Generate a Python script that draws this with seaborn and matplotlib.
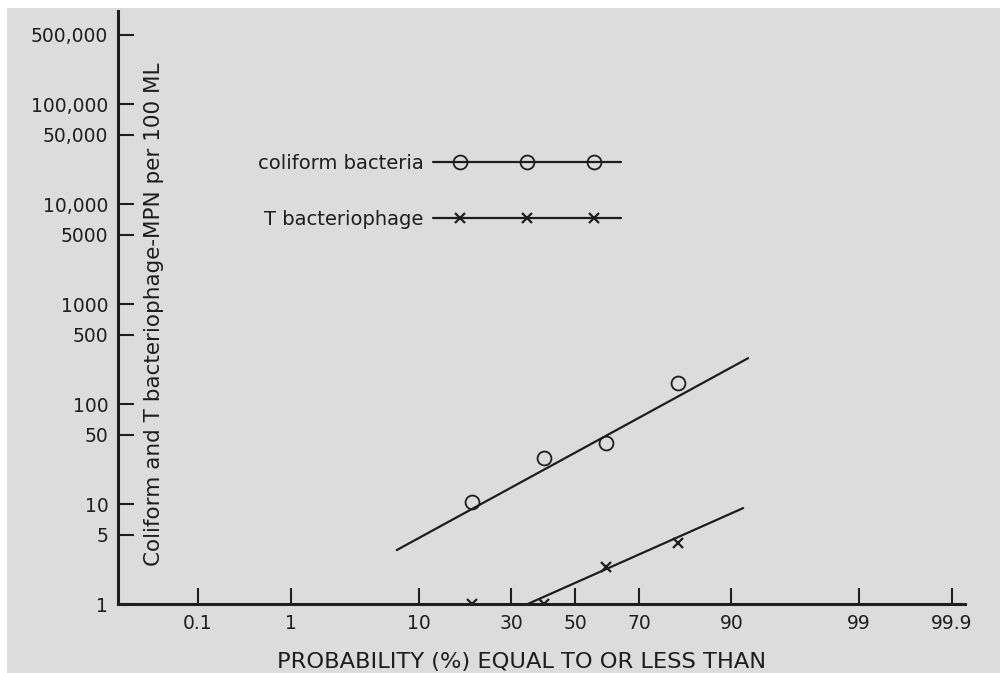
import numpy as np
import matplotlib
matplotlib.use("Agg")
import matplotlib.pyplot as plt
import seaborn as sns
from statistics import NormalDist
from matplotlib.lines import Line2D
from matplotlib.legend_handler import HandlerLine2D, HandlerTuple
from matplotlib.patches import Rectangle
from matplotlib.ticker import FixedLocator, FixedFormatter, NullLocator

# ---------------- data ----------------
probability = [20, 40, 60, 80]
coliform = [10.5, 29, 41, 165]
phage = [1, 1, 2.35, 4.1]

coliform_fit_prob = [7.2, 92.2]
coliform_fit_val = [3.5, 290]
phage_fit_prob = [34.6, 91.6]
phage_fit_val = [1.0, 9.2]

series_labels = ["coliform bacteria", "T bacteriophage"]

x_ticks = [0.1, 1, 10, 30, 50, 70, 90, 99, 99.9]
x_tick_labels = ["0.1", "1", "10", "30", "50", "70", "90", "99", "99.9"]
y_ticks = [1, 5, 10, 50, 100, 500, 1000, 5000, 10000, 50000, 100000, 500000]
y_tick_labels = ["1", "5", "10", "50", "100", "500", "1000", "5000",
                 "10,000", "50,000", "100,000", "500,000"]

x_label = "PROBABILITY (%) EQUAL TO OR LESS THAN"
y_label = "Coliform and T bacteriophage-MPN per 100 ML"

# ---------------- style ----------------
sns.set_theme(style="ticks")
plt.rcParams["font.family"] = ["DejaVu Sans"]
INK = "#1e1e1e"
BG = "#dcdcdc"

# normal-probability scale
_nd = NormalDist()


def _ppf(v):
    if not np.isfinite(v):
        return np.nan
    q = min(max(v / 100.0, 1e-12), 1 - 1e-12)
    return _nd.inv_cdf(q)


def _cdf(z):
    if np.isnan(z):
        return np.nan
    return _nd.cdf(z) * 100.0


prob_fwd = np.vectorize(_ppf, otypes=[float])
prob_inv = np.vectorize(_cdf, otypes=[float])

fig = plt.figure(figsize=(10, 6.73), dpi=100, facecolor="white")
fig.patches.append(Rectangle((0.007, 0), 0.993, 1 - 8 / 673, transform=fig.transFigure,
                             facecolor=BG, edgecolor="none", zorder=-10))
ax = fig.add_axes([0.118, 0.1018, 0.847, 0.8819])
ax.set_facecolor("none")

ax.set_xscale("function", functions=(prob_fwd, prob_inv))
ax.set_yscale("log")

# fitted lines
sns.lineplot(x=coliform_fit_prob, y=coliform_fit_val, ax=ax, color=INK, lw=1.6)
sns.lineplot(x=phage_fit_prob, y=phage_fit_val, ax=ax, color=INK, lw=1.6)

# observed points
sns.lineplot(x=probability, y=coliform, ax=ax, linestyle="", marker="o", ms=10,
             mfc="none", mec=INK, mew=1.3, color=INK)
sns.lineplot(x=probability, y=phage, ax=ax, linestyle="", marker="x", ms=7.5,
             mec=INK, mew=1.6, color=INK)

ax.set_xlim(0.00899, 99.9306)
ax.set_ylim(1, 8.6e5)

ax.xaxis.set_major_locator(FixedLocator(x_ticks))
ax.xaxis.set_major_formatter(FixedFormatter(x_tick_labels))
ax.xaxis.set_minor_locator(NullLocator())
ax.yaxis.set_major_locator(FixedLocator(y_ticks))
ax.yaxis.set_major_formatter(FixedFormatter(y_tick_labels))
ax.yaxis.set_minor_locator(NullLocator())

ax.tick_params(axis="both", which="major", direction="in", length=11.5, width=1.5,
               color=INK, labelcolor=INK, labelsize=13.5)
ax.tick_params(axis="x", pad=6.5)
ax.tick_params(axis="y", pad=7)

for s in ["top", "right"]:
    ax.spines[s].set_visible(False)
for s in ["left", "bottom"]:
    ax.spines[s].set_linewidth(2.2)
    ax.spines[s].set_color(INK)

ax.set_xlabel(x_label, fontsize=16.2, color=INK, va="center")
ax.xaxis.set_label_coords(0.476, -0.0969)
ax.set_ylabel(y_label, fontsize=15.5, color=INK, va="center")
ax.yaxis.set_label_coords(0.043, 0.489)

# legend (text on the left, line with three markers on the right)
h_line1 = Line2D([], [], color=INK, lw=1.6)
h_mark1 = Line2D([], [], ls="none", marker="o", ms=10, mfc="none", mec=INK, mew=1.3)
h_line2 = Line2D([], [], color=INK, lw=1.6)
h_mark2 = Line2D([], [], ls="none", marker="x", ms=7.5, mec=INK, mew=1.6)
hmap = {
    h_line1: HandlerLine2D(numpoints=1),
    h_line2: HandlerLine2D(numpoints=1),
    h_mark1: HandlerLine2D(numpoints=3, marker_pad=1.39),
    h_mark2: HandlerLine2D(numpoints=3, marker_pad=1.39),
    tuple: HandlerTuple(ndivide=1, pad=0),
}
leg = ax.legend([(h_line1, h_mark1), (h_line2, h_mark2)], series_labels,
                handler_map=hmap, markerfirst=False, frameon=False,
                fontsize=14, handlelength=9.67, handletextpad=0.5,
                labelspacing=1.9, borderpad=0, borderaxespad=0,
                loc="upper right", bbox_to_anchor=(0.594, 0.759))
for t in leg.get_texts():
    t.set_color(INK)

fig.savefig("out.png", dpi=100, facecolor=fig.get_facecolor())
